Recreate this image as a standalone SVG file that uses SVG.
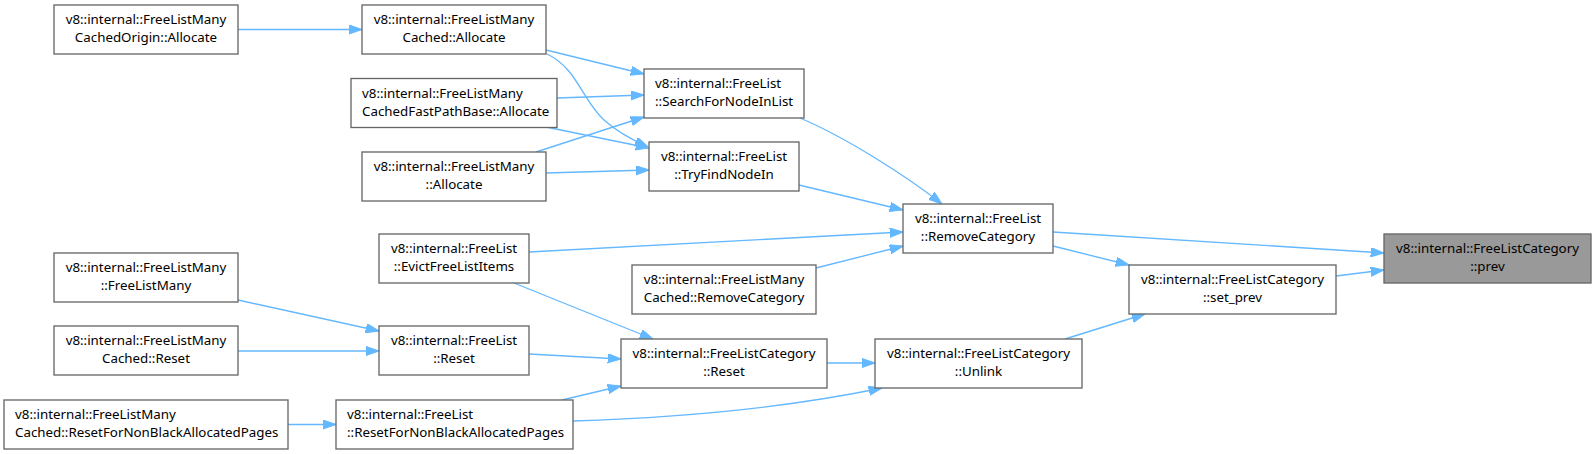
<svg xmlns="http://www.w3.org/2000/svg" width="1596" height="454" viewBox="0 0 1596 454">
<defs>
<style>
.n rect{fill:#ffffff;stroke:#666666;stroke-width:1.33}
.n.h rect{fill:#999999}
.n text{font-family:"Noto Sans","Open Sans","DejaVu Sans",sans-serif;font-size:13.33px;fill:#000000}
.c{text-anchor:middle}
.e path{fill:none;stroke:#63b8ff;stroke-width:1.33;marker-end:url(#ah)}
</style>
<marker id="ah" markerUnits="userSpaceOnUse" markerWidth="14" markerHeight="10" viewBox="0 0 14 10" refX="13.3" refY="4.67" orient="auto">
<path d="M0,0 L13.3,4.67 L0,9.33 Z" fill="#63b8ff" stroke="#63b8ff" stroke-width="1"/>
</marker>
</defs>
<rect width="1596" height="454" fill="#ffffff"/>
<g id="edges" class="e">
<path d="M238,29.5 L362,29.5"/>
<path d="M546,50 L644,74"/>
<path d="M547,54 C577,68 582,100 604,120 C614,129 628,138 648,147"/>
<path d="M557,98 L644,95"/>
<path d="M546,127 L649,148"/>
<path d="M536,152 L644,117"/>
<path d="M546,173 L649,170"/>
<path d="M800,118 C845,137 905,175 942,204"/>
<path d="M799,185 L903,210"/>
<path d="M529,252 L903,232"/>
<path d="M816,268 L903,246"/>
<path d="M1053,232 L1384,253"/>
<path d="M1053,246 L1129,265"/>
<path d="M1336,276 L1384,270"/>
<path d="M1065,339 L1145,314"/>
<path d="M238,300 L379,331"/>
<path d="M238,351 L379,351"/>
<path d="M288,424.5 L336,424.5"/>
<path d="M514,283 L653,339"/>
<path d="M529,354 L621,359"/>
<path d="M562,400 L621,386"/>
<path d="M573,421 C700,417 800,405 882,388"/>
<path d="M827,363 L875,363"/>
</g>
<g id="n_origin" class="n"><rect x="54" y="5" width="184" height="49"/><text class="c" x="146" y="24">v8::internal::FreeListMany</text><text class="c" x="146" y="42">CachedOrigin::Allocate</text></g>
<g id="n_cached_alloc" class="n"><rect x="362" y="5" width="184" height="49"/><text class="c" x="454" y="24">v8::internal::FreeListMany</text><text class="c" x="454" y="42">Cached::Allocate</text></g>
<g id="n_fastpath" class="n"><rect x="351" y="78.5" width="206" height="49"/><text x="362" y="97.5">v8::internal::FreeListMany</text><text x="362" y="115.5">CachedFastPathBase::Allocate</text></g>
<g id="n_many_alloc" class="n"><rect x="362" y="152" width="184" height="49"/><text class="c" x="454" y="171">v8::internal::FreeListMany</text><text class="c" x="454" y="189">::Allocate</text></g>
<g id="n_search" class="n"><rect x="644" y="69" width="160" height="49"/><text x="655" y="88">v8::internal::FreeList</text><text x="655" y="106">::SearchForNodeInList</text></g>
<g id="n_tryfind" class="n"><rect x="649" y="142" width="150" height="49"/><text class="c" x="724" y="161">v8::internal::FreeList</text><text class="c" x="724" y="179">::TryFindNodeIn</text></g>
<g id="n_removecat" class="n"><rect x="903" y="204" width="150" height="49"/><text class="c" x="978" y="223">v8::internal::FreeList</text><text class="c" x="978" y="241">::RemoveCategory</text></g>
<g id="n_prev" class="n h"><rect x="1384" y="234" width="207" height="49"/><text class="c" x="1487.5" y="253">v8::internal::FreeListCategory</text><text class="c" x="1487.5" y="271">::prev</text></g>
<g id="n_setprev" class="n"><rect x="1129" y="265" width="207" height="49"/><text class="c" x="1232.5" y="284">v8::internal::FreeListCategory</text><text class="c" x="1232.5" y="302">::set_prev</text></g>
<g id="n_evict" class="n"><rect x="379" y="234" width="150" height="49"/><text class="c" x="454" y="253">v8::internal::FreeList</text><text class="c" x="454" y="271">::EvictFreeListItems</text></g>
<g id="n_cached_remove" class="n"><rect x="632" y="265" width="184" height="49"/><text class="c" x="724" y="284">v8::internal::FreeListMany</text><text class="c" x="724" y="302">Cached::RemoveCategory</text></g>
<g id="n_flm_ctor" class="n"><rect x="54" y="253" width="184" height="49"/><text class="c" x="146" y="272">v8::internal::FreeListMany</text><text class="c" x="146" y="290">::FreeListMany</text></g>
<g id="n_cached_reset" class="n"><rect x="54" y="326" width="184" height="49"/><text class="c" x="146" y="345">v8::internal::FreeListMany</text><text class="c" x="146" y="363">Cached::Reset</text></g>
<g id="n_fl_reset" class="n"><rect x="379" y="326" width="150" height="49"/><text class="c" x="454" y="345">v8::internal::FreeList</text><text class="c" x="454" y="363">::Reset</text></g>
<g id="n_cat_reset" class="n"><rect x="621" y="339" width="206" height="49"/><text class="c" x="724" y="358">v8::internal::FreeListCategory</text><text class="c" x="724" y="376">::Reset</text></g>
<g id="n_unlink" class="n"><rect x="875" y="339" width="207" height="49"/><text class="c" x="978.5" y="358">v8::internal::FreeListCategory</text><text class="c" x="978.5" y="376">::Unlink</text></g>
<g id="n_cached_resetnb" class="n"><rect x="4" y="400" width="284" height="49"/><text x="15" y="419">v8::internal::FreeListMany</text><text x="15" y="437">Cached::ResetForNonBlackAllocatedPages</text></g>
<g id="n_fl_resetnb" class="n"><rect x="336" y="400" width="237" height="49"/><text x="347" y="419">v8::internal::FreeList</text><text x="347" y="437">::ResetForNonBlackAllocatedPages</text></g>
</svg>
